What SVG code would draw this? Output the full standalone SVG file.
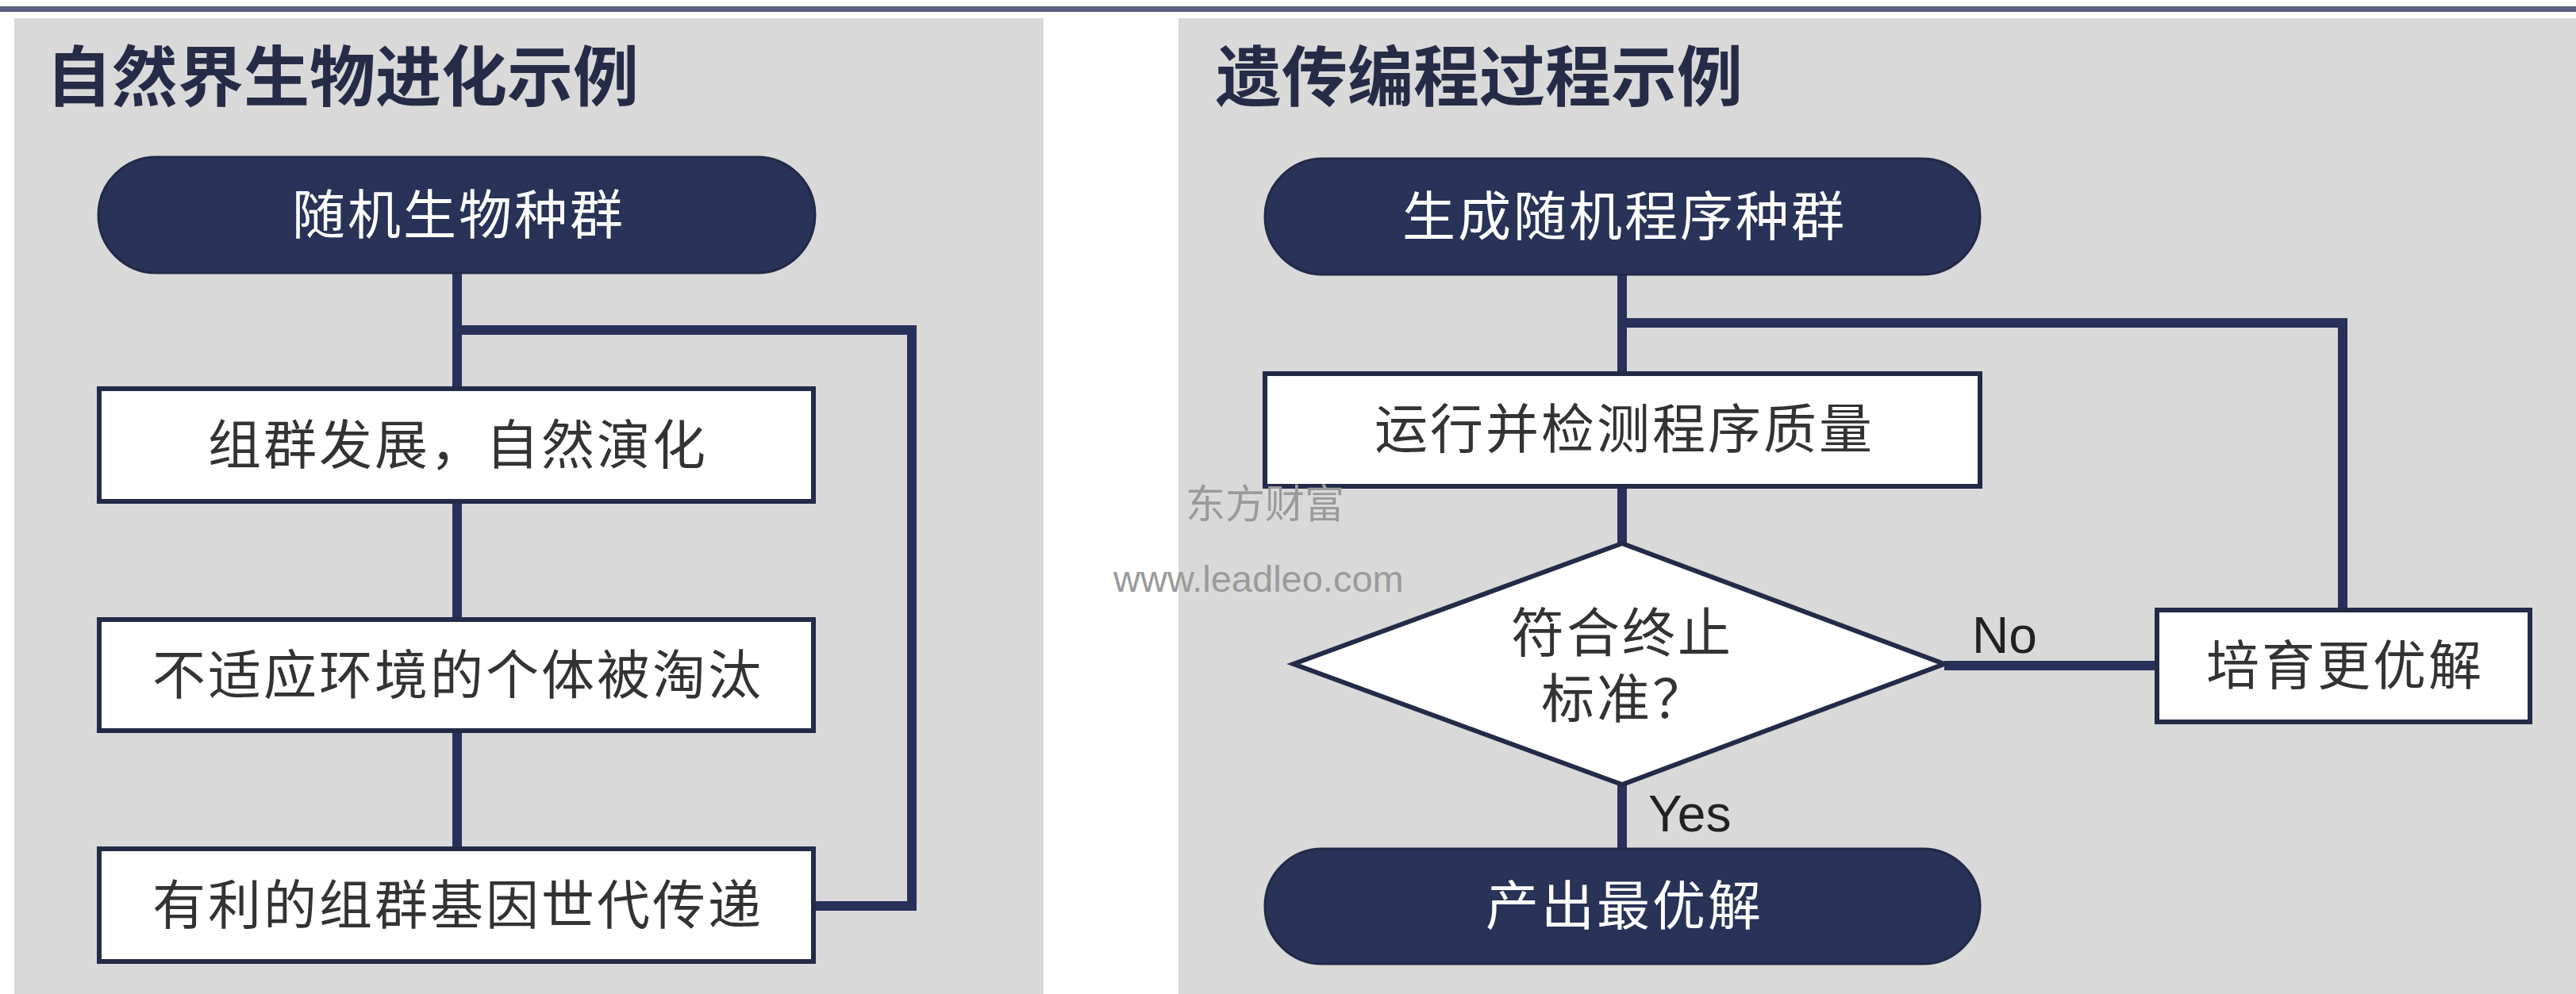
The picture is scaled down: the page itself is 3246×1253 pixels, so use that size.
<svg xmlns="http://www.w3.org/2000/svg" width="3246" height="1253" viewBox="0 0 3246 1253">
<style>
.panel{fill:#d9d9d9}
.title{font-family:"Noto Sans CJK SC","Noto Sans",sans-serif;font-weight:bold;font-size:83px;fill:#262c47}
.pill{fill:#283357;stroke:#222a48;stroke-width:3}
.box{fill:#ffffff;stroke:#232b48;stroke-width:6}
.pt{font-family:"Noto Sans CJK SC","Noto Sans",sans-serif;font-size:67px;letter-spacing:3px;fill:#ffffff;text-anchor:middle}
.bt{font-family:"Noto Sans CJK SC","Noto Sans",sans-serif;font-size:67px;letter-spacing:3px;fill:#333333;text-anchor:middle}
.lab{font-family:"Liberation Sans",Arial,sans-serif;font-size:64px;fill:#222222}
.ln{fill:none;stroke:#27315a;stroke-width:12;stroke-linejoin:miter}
.wm{fill:#9a9a9a}
</style>
<rect x="0" y="0" width="3246" height="1253" fill="#ffffff"/>
<rect x="0" y="8" width="3246" height="7" fill="#5a6080"/>
<rect class="panel" x="18" y="23" width="1297" height="1230"/>
<rect class="panel" x="1485" y="23" width="1761" height="1230"/>

<text class="title" x="58" y="127">自然界生物进化示例</text>
<text class="title" x="1532" y="127">遗传编程过程示例</text>

<g id="connectors">
<path class="ln" d="M576 344 V489"/>
<path class="ln" d="M576 632 V780"/>
<path class="ln" d="M576 921 V1069"/>
<path class="ln" d="M576 416 H1149 V1142 H1025"/>
<path class="ln" d="M2044 346 V470"/>
<path class="ln" d="M2044 613 V685"/>
<path class="ln" d="M2044 989 V1070"/>
<path class="ln" d="M2044 407 H2952 V768"/>
<path class="ln" d="M2450 839 H2717"/>
<text class="lab" x="2485" y="823">No</text>
<text class="lab" x="2077" y="1048">Yes</text>
</g>

<g id="n1">
<rect class="pill" x="124" y="198" width="903" height="146" rx="73"/>
<text class="pt" x="578" y="295">随机生物种群</text>
</g>
<g id="n2">
<rect class="box" x="125" y="490" width="900" height="142"/>
<text class="bt" x="577" y="585">组群发展，自然演化</text>
</g>
<g id="n3">
<rect class="box" x="125" y="781" width="900" height="140"/>
<text class="bt" x="577" y="875">不适应环境的个体被淘汰</text>
</g>
<g id="n4">
<rect class="box" x="125" y="1070" width="900" height="142"/>
<text class="bt" x="577" y="1165">有利的组群基因世代传递</text>
</g>

<g id="r1">
<rect class="pill" x="1594" y="200" width="901" height="146" rx="73"/>
<text class="pt" x="2047" y="297">生成随机程序种群</text>
</g>
<g id="r2">
<rect class="box" x="1594" y="471" width="901" height="142"/>
<text class="bt" x="2047" y="565">运行并检测程序质量</text>
</g>
<g id="r3">
<polygon class="box" stroke-width="5" points="2044,685 2450,837 2044,989 1630,837"/>
<text class="bt"><tspan x="2044" y="822">符合终止</tspan><tspan x="2047" y="905">标准？</tspan></text>
</g>
<g id="r4">
<rect class="box" x="2718" y="769" width="470" height="141"/>
<text class="bt" x="2955" y="863">培育更优解</text>
</g>
<g id="r5">
<rect class="pill" x="1594" y="1070" width="901" height="145" rx="72"/>
<text class="pt" x="2047" y="1166">产出最优解</text>
</g>

<text class="wm" x="1494" y="653" font-family="Noto Sans CJK SC,sans-serif" font-size="50">东方财富</text>
<text class="wm" x="1403" y="746" font-family="Liberation Sans,Arial,sans-serif" font-size="47">www.leadleo.com</text>
</svg>
